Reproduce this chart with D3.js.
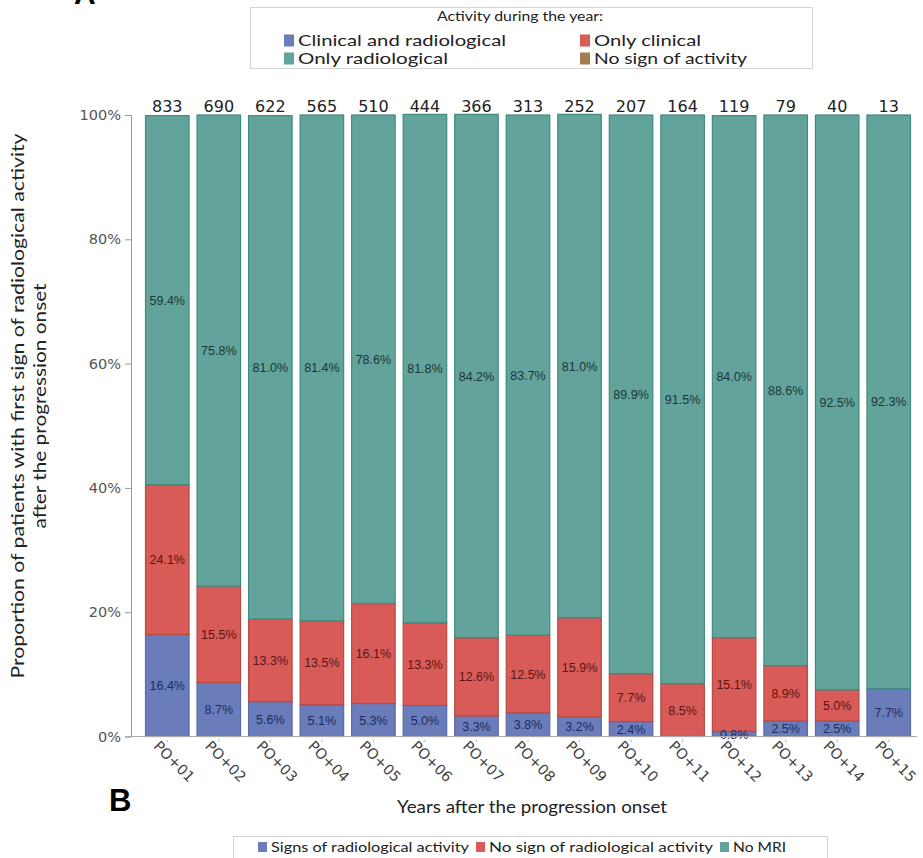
<!DOCTYPE html>
<html>
<head>
<meta charset="utf-8">
<script src="https://cdn.jsdelivr.net/npm/d3@7"></script>
<style>
  body { margin: 0; background: #fff; }
  svg { display: block; }
</style>
</head>
<body>
<svg id="chart" width="923" height="858"></svg>
<script>
// data
const years = ["PO+01","PO+02","PO+03","PO+04","PO+05","PO+06","PO+07","PO+08","PO+09","PO+10","PO+11","PO+12","PO+13","PO+14","PO+15"];
const counts = [833, 690, 622, 565, 510, 444, 366, 313, 252, 207, 164, 119, 79, 40, 13];
const bluePct = [16.4, 8.7, 5.6, 5.1, 5.3, 5.0, 3.3, 3.8, 3.2, 2.4, 0, 0.8, 2.5, 2.5, 7.7];
const redPct = [24.1, 15.5, 13.3, 13.5, 16.1, 13.3, 12.6, 12.5, 15.9, 7.7, 8.5, 15.1, 8.9, 5.0, 0];
const tealPct = [59.4, 75.8, 81.0, 81.4, 78.6, 81.8, 84.2, 83.7, 81.0, 89.9, 91.5, 84.0, 88.6, 92.5, 92.3];
const yTicks = [0, 20, 40, 60, 80, 100];

const topLegend = ["Clinical and radiological", "Only clinical", "Only radiological", "No sign of activity"];
const bottomLegend = ["Signs of radiological activity", "No sign of radiological activity", "No MRI"];

const fills = { blue: "#6a7dba", red: "#d85b57", teal: "#62a49b", brown: "#a47c4f" };
const strokes = { blue: "#5a6aa6", red: "#b84a46", teal: "#3f8b7f" };
const labelCols = { blue: "#1c2a5c", red: "#5a1414", teal: "#1a3535" };

const svg = d3.select("#chart");
const plotLeft = 131, plotRight = 917, plotTop = 115, plotBottom = 736.5;

const x = d3.scaleBand().domain(years).range([141.5, 914.5]).paddingInner(0.136).paddingOuter(0.068);
const y = d3.scaleLinear().domain([0, 100]).range([plotBottom, plotTop]);

// helper for Calibri-like text widths
function label(sel, txt, len) {
  sel.style("font-family", "Lato, sans-serif").attr("fill", "#222").text(txt);
  if (len) sel.attr("textLength", len).attr("lengthAdjust", "spacingAndGlyphs");
  return sel;
}

// panel letters
svg.append("text").attr("x", 74).attr("y", 4)
  .style("font-family", "Liberation Sans, Arial, sans-serif")
  .style("font-weight", "bold").style("font-size", "30px").text("A");
svg.append("text").attr("x", 109).attr("y", 811)
  .style("font-family", "Liberation Sans, Arial, sans-serif")
  .style("font-weight", "bold").style("font-size", "31px").text("B");

// top legend
const lg = svg.append("g");
lg.append("rect").attr("x", 250.5).attr("y", 7.5).attr("width", 562).attr("height", 61)
  .attr("fill", "#fff").attr("stroke", "#d4d4d4");
label(lg.append("text").attr("x", 520).attr("y", 21).attr("text-anchor", "middle")
  .style("font-size", "14px"), "Activity during the year:", 166);
const topCols = [fills.blue, fills.red, fills.teal, fills.brown];
const topLens = [208, 107, 150, 153];
topLegend.forEach((t, i) => {
  const gx = i % 2 === 0 ? 284 : 580;
  const gy = i < 2 ? 40.5 : 58.5;
  lg.append("rect").attr("x", gx).attr("y", gy - 6).attr("width", 10).attr("height", 12).attr("fill", topCols[i]);
  label(lg.append("text").attr("x", gx + 14).attr("y", gy + 5).style("font-size", "15px"), t, topLens[i]);
});

// stacked data
const stackData = years.map((yr, i) => ({ yr, blue: bluePct[i], red: redPct[i], teal: tealPct[i] }));
const keys = ["blue", "red", "teal"];
const series = d3.stack().keys(keys)(stackData);

const plot = svg.append("g");
series.forEach(s => {
  plot.selectAll(null).data(s.filter(d => d[1] - d[0] > 0)).enter()
    .append("rect")
    .attr("x", d => x(d.data.yr) + 0.5)
    .attr("y", d => y(d[1]))
    .attr("width", x.bandwidth() - 1)
    .attr("height", d => y(d[0]) - y(d[1]))
    .attr("fill", fills[s.key])
    .attr("stroke", strokes[s.key])
    .attr("stroke-width", 1.2);
});

// segment labels (skip zero-sized)
series.forEach(s => {
  plot.selectAll(null).data(s.filter(d => d[1] - d[0] > 0)).enter()
    .append("text")
    .attr("x", d => x(d.data.yr) + x.bandwidth() / 2)
    .attr("y", d => y((d[0] + d[1]) / 2) + 4.5)
    .attr("text-anchor", "middle")
    .style("font-family", "Liberation Sans, Arial, sans-serif")
    .style("font-size", "12.5px")
    .attr("fill", labelCols[s.key])
    .text(d => (d[1] - d[0]).toFixed(1) + "%");
});

// counts above bars
plot.selectAll(".cnt").data(years).enter().append("text")
  .attr("x", d => x(d) + x.bandwidth() / 2)
  .attr("y", plotTop - 3)
  .attr("text-anchor", "middle")
  .style("font-family", "DejaVu Sans, Verdana, sans-serif")
  .style("font-size", "16px").attr("fill", "#222")
  .text((d, i) => counts[i]);

// y axis
const yAxis = svg.append("g").attr("transform", `translate(${plotLeft},0)`)
  .call(d3.axisLeft(y).tickValues(yTicks).tickSize(6).tickFormat(d => d + "%"));
yAxis.select(".domain").attr("stroke", "#999");
yAxis.selectAll(".tick line").attr("stroke", "#999");
yAxis.selectAll(".tick text").attr("fill", "#555").attr("x", -10)
  .style("font-family", "DejaVu Sans, Verdana, sans-serif").style("font-size", "14.5px");

// x axis
const xAxis = svg.append("g").attr("transform", `translate(0,${plotBottom})`)
  .call(d3.axisBottom(x).tickSize(6).tickSizeOuter(0));
xAxis.select(".domain").attr("stroke", "#aaa").attr("d", `M${plotLeft},0H${plotRight}`);
xAxis.selectAll(".tick line").attr("stroke", "#bbb").attr("y1", 3);
xAxis.selectAll(".tick text")
  .attr("text-anchor", "start")
  .attr("transform", "translate(-11,7) rotate(45)")
  .attr("y", 0).attr("dy", "0.35em")
  .attr("fill", "#444")
  .style("font-family", "DejaVu Sans, Verdana, sans-serif").style("font-size", "14.5px");

// axis titles
label(svg.append("text").attr("x", 532).attr("y", 813).attr("text-anchor", "middle")
  .style("font-size", "17px"), "Years after the progression onset", 270);
label(svg.append("text").attr("transform", "translate(24,406) rotate(-90)").attr("text-anchor", "middle")
  .style("font-size", "17px"), "Proportion of patients with  first sign of radiological activity", 545);
label(svg.append("text").attr("transform", "translate(46,406) rotate(-90)").attr("text-anchor", "middle")
  .style("font-size", "17px"), "after the progression onset", 245);

// bottom legend
const bl = svg.append("g");
bl.append("rect").attr("x", 233.5).attr("y", 836.5).attr("width", 594).attr("height", 24)
  .attr("fill", "#fff").attr("stroke", "#d4d4d4");
const blCols = [fills.blue, fills.red, fills.teal];
const blX = [258, 476, 720];
const blLens = [198, 224, 53];
bottomLegend.forEach((t, i) => {
  bl.append("rect").attr("x", blX[i]).attr("y", 842).attr("width", 9).attr("height", 10).attr("fill", blCols[i]);
  label(bl.append("text").attr("x", blX[i] + 13).attr("y", 852).style("font-size", "13px"), t, blLens[i]);
});
</script>
</body>
</html>
